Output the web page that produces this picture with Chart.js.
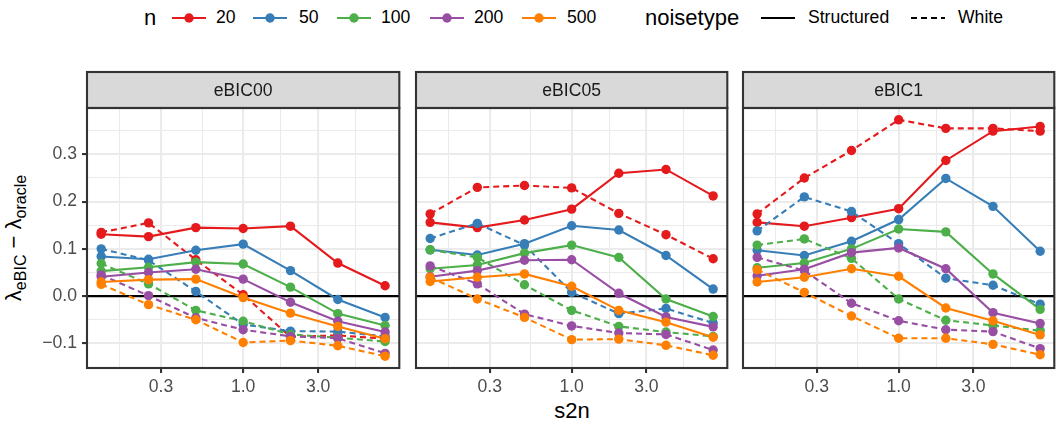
<!DOCTYPE html>
<html>
<head>
<meta charset="utf-8">
<script src="https://cdn.jsdelivr.net/npm/chart.js@4.4.1/dist/chart.umd.min.js"></script>
<style>
  html, body { margin:0; padding:0; background:#fff; }
  body { width:1063px; height:427px; overflow:hidden; position:relative; font-family:"Liberation Sans", Arial, Helvetica, sans-serif; }
  canvas { position:absolute; }
  .lg { position:absolute; top:0; height:35px; display:flex; align-items:center; white-space:nowrap; color:#000; }
  .lgt { font-size:22px; }
  .lgl { font-size:17.6px; }
  #ytitle { position:absolute; left:-136px; top:223px; width:300px; height:30px; line-height:30px; text-align:center; font-size:22px; transform:rotate(-90deg); transform-origin:50% 50%; color:#000; white-space:nowrap; }
  #ytitle sub { font-size:16px; vertical-align:-5px; line-height:0; }
  #xtitle { position:absolute; left:472px; width:200px; top:397px; height:28px; line-height:28px; text-align:center; font-size:22px; color:#000; }
</style>
</head>
<body>
<div id="legend"></div>
<div id="ytitle">λ<sub>eBIC</sub> − λ<sub>oracle</sub></div>
<div id="xtitle">s2n</div>
<canvas id="c0" width="404" height="330" style="left:0px;top:70px"></canvas>
<canvas id="c1" width="326" height="330" style="left:406px;top:70px"></canvas>
<canvas id="c2" width="326" height="330" style="left:733px;top:70px"></canvas>
<script>
// ---------------- data ----------------
const s2n = [0.125, 0.25, 0.5, 1, 2, 4, 8];
const nLevels = ['20', '50', '100', '200', '500'];
const noiseTypes = ['Structured', 'White'];
const facetNames = ['eBIC00', 'eBIC05', 'eBIC1'];
const xTickValues = [0.3, 1, 3];
const xMinorValues = [0.1643, 0.5477, 1.7321, 5.1962];
const yTickValues = [-0.1, 0, 0.1, 0.2, 0.3];
const yMinorValues = [-0.15, -0.05, 0.05, 0.15, 0.25, 0.35];

// eBIC00
const eBIC00_structured_n20  = [0.131, 0.126, 0.145, 0.143, 0.148, 0.070, 0.022];
const eBIC00_structured_n50  = [0.084, 0.078, 0.097, 0.110, 0.054, -0.007, -0.045];
const eBIC00_structured_n100 = [0.053, 0.061, 0.072, 0.068, 0.019, -0.037, -0.062];
const eBIC00_structured_n200 = [0.041, 0.050, 0.057, 0.036, -0.013, -0.053, -0.076];
const eBIC00_structured_n500 = [0.030, 0.035, 0.036, -0.003, -0.036, -0.064, -0.090];
const eBIC00_white_n20  = [0.135, 0.155, 0.077, 0.003, -0.086, -0.083, -0.090];
const eBIC00_white_n50  = [0.100, 0.076, 0.010, -0.060, -0.074, -0.075, -0.085];
const eBIC00_white_n100 = [0.069, 0.026, -0.030, -0.053, -0.081, -0.088, -0.096];
const eBIC00_white_n200 = [0.045, 0.001, -0.046, -0.071, -0.085, -0.089, -0.121];
const eBIC00_white_n500 = [0.025, -0.018, -0.050, -0.098, -0.094, -0.105, -0.127];

// eBIC05
const eBIC05_structured_n20  = [0.156, 0.145, 0.161, 0.184, 0.260, 0.268, 0.212];
const eBIC05_structured_n50  = [0.098, 0.087, 0.111, 0.149, 0.140, 0.086, 0.015];
const eBIC05_structured_n100 = [0.058, 0.066, 0.091, 0.108, 0.082, -0.006, -0.043];
const eBIC05_structured_n200 = [0.041, 0.054, 0.076, 0.077, 0.006, -0.044, -0.065];
const eBIC05_structured_n500 = [0.031, 0.040, 0.047, 0.021, -0.030, -0.055, -0.087];
const eBIC05_white_n20  = [0.174, 0.230, 0.234, 0.229, 0.175, 0.130, 0.079];
const eBIC05_white_n50  = [0.122, 0.154, 0.108, 0.008, -0.037, -0.026, -0.057];
const eBIC05_white_n100 = [0.098, 0.082, 0.024, -0.030, -0.064, -0.076, -0.085];
const eBIC05_white_n200 = [0.064, 0.026, -0.038, -0.063, -0.078, -0.081, -0.114];
const eBIC05_white_n500 = [0.040, -0.006, -0.045, -0.092, -0.091, -0.104, -0.125];

// eBIC1
const eBIC1_structured_n20  = [0.156, 0.148, 0.166, 0.185, 0.287, 0.349, 0.359];
const eBIC1_structured_n50  = [0.097, 0.086, 0.116, 0.162, 0.249, 0.190, 0.095];
const eBIC1_structured_n100 = [0.060, 0.070, 0.100, 0.142, 0.136, 0.047, -0.028];
const eBIC1_structured_n200 = [0.043, 0.057, 0.092, 0.102, 0.058, -0.035, -0.058];
const eBIC1_structured_n500 = [0.030, 0.040, 0.058, 0.042, -0.025, -0.052, -0.082];
const eBIC1_white_n20  = [0.174, 0.250, 0.308, 0.373, 0.355, 0.355, 0.349];
const eBIC1_white_n50  = [0.138, 0.210, 0.179, 0.111, 0.038, 0.023, -0.017];
const eBIC1_white_n100 = [0.108, 0.121, 0.080, -0.006, -0.051, -0.062, -0.073];
const eBIC1_white_n200 = [0.082, 0.054, -0.015, -0.052, -0.071, -0.075, -0.111];
const eBIC1_white_n500 = [0.056, 0.008, -0.042, -0.089, -0.089, -0.102, -0.124];

// ---------------- styling ----------------
const nColors = ['#E41A1C', '#377EB8', '#4DAF4A', '#984EA3', '#FF7F00'];
const dashFor = [[], [6, 4]];
const FONT = '"Liberation Sans", Arial, Helvetica, sans-serif';

const panelSeries = [
  [[eBIC00_structured_n20, eBIC00_structured_n50, eBIC00_structured_n100, eBIC00_structured_n200, eBIC00_structured_n500],
   [eBIC00_white_n20, eBIC00_white_n50, eBIC00_white_n100, eBIC00_white_n200, eBIC00_white_n500]],
  [[eBIC05_structured_n20, eBIC05_structured_n50, eBIC05_structured_n100, eBIC05_structured_n200, eBIC05_structured_n500],
   [eBIC05_white_n20, eBIC05_white_n50, eBIC05_white_n100, eBIC05_white_n200, eBIC05_white_n500]],
  [[eBIC1_structured_n20, eBIC1_structured_n50, eBIC1_structured_n100, eBIC1_structured_n200, eBIC1_structured_n500],
   [eBIC1_white_n20, eBIC1_white_n50, eBIC1_white_n100, eBIC1_white_n200, eBIC1_white_n500]]
];

// shared limits with ggplot-like 5% expansion
const lx0 = Math.log10(Math.min(...s2n)), lx1 = Math.log10(Math.max(...s2n));
const lxe = (lx1 - lx0) * 0.05;
const xMin = Math.pow(10, lx0 - lxe), xMax = Math.pow(10, lx1 + lxe);
const allY = panelSeries.flat(2).flat();
const yLo = Math.min(...allY), yHi = Math.max(...allY);
const ye = (yHi - yLo) * 0.05;
const yMin = yLo - ye, yMax = yHi + ye;

const isMajor = (arr, v) => arr.some(t => Math.abs(t - v) < 1e-9);
const fmt = v => (Math.abs(v) < 1e-9 ? '0.0' : (v < 0 ? '\u2212' + Math.abs(v).toFixed(1) : v.toFixed(1)));

const panelPlugin = {
  id: 'panelDeco',
  beforeDatasetsDraw(chart) {
    const a = chart.chartArea, ctx = chart.ctx;
    const y0 = chart.scales.y.getPixelForValue(0);
    ctx.save();
    ctx.beginPath(); ctx.rect(a.left, a.top, a.right - a.left, a.bottom - a.top); ctx.clip();
    ctx.strokeStyle = '#000000'; ctx.lineWidth = 2.1;
    ctx.beginPath(); ctx.moveTo(a.left, y0); ctx.lineTo(a.right, y0); ctx.stroke();
    ctx.restore();
  },
  afterDraw(chart, args, opts) {
    const a = chart.chartArea, ctx = chart.ctx;
    ctx.save();
    // strip
    const sTop = a.top - 36;
    ctx.fillStyle = '#D9D9D9';
    ctx.fillRect(a.left, sTop, a.right - a.left, a.top - sTop);
    ctx.strokeStyle = '#333333'; ctx.lineWidth = 2.1;
    ctx.strokeRect(a.left, sTop, a.right - a.left, a.top - sTop);
    ctx.fillStyle = '#1A1A1A';
    ctx.font = '17.6px ' + FONT;
    ctx.textAlign = 'center'; ctx.textBaseline = 'middle';
    ctx.fillText(opts.title, (a.left + a.right) / 2, (sTop + a.top) / 2 + 1);
    // panel border
    ctx.strokeRect(a.left, a.top, a.right - a.left, a.bottom - a.top);
    ctx.restore();
  }
};

function makePanel(p) {
  const datasets = [];
  for (let k = 0; k < nLevels.length; k++) {
    for (let t = 0; t < noiseTypes.length; t++) {
      const vals = panelSeries[p][t][k];
      const pts = s2n.map((x, i) => ({ x: x, y: vals[i] }));
      const idx = k * 2 + t;
      datasets.push({
        label: 'n=' + nLevels[k] + ' ' + noiseTypes[t],
        data: pts, borderColor: nColors[k], backgroundColor: nColors[k],
        borderWidth: 2.1, borderDash: dashFor[t], pointRadius: 0, tension: 0, fill: false,
        order: 100 - idx
      });
      datasets.push({
        label: 'pts n=' + nLevels[k] + ' ' + noiseTypes[t],
        data: pts, showLine: false, pointRadius: 4.7, pointBorderWidth: 0,
        pointBackgroundColor: nColors[k], pointBorderColor: nColors[k],
        order: -idx
      });
    }
  }
  const showY = p === 0;
  const allXTicks = [...xMinorValues, ...xTickValues].sort((a, b) => a - b);
  const allYTicks = [...yMinorValues, ...yTickValues].sort((a, b) => a - b);
  new Chart(document.getElementById('c' + p), {
    type: 'line',
    data: { datasets },
    plugins: [panelPlugin],
    options: {
      responsive: false, animation: false, devicePixelRatio: 1,
      layout: { padding: { top: 38, right: 1, left: 0, bottom: 0 } },
      plugins: { legend: { display: false }, tooltip: { enabled: false }, panelDeco: { title: facetNames[p] } },
      scales: {
        x: {
          type: 'logarithmic', min: xMin, max: xMax,
          afterBuildTicks: s => { s.ticks = allXTicks.map(v => ({ value: v })); },
          afterFit: s => { s.height = 32; s.paddingLeft = 0; s.paddingRight = 0; },
          border: { display: false },
          grid: {
            color: '#EBEBEB',
            lineWidth: c => (isMajor(xTickValues, c.tick.value) ? 2.1 : 1.05),
            tickColor: c => (isMajor(xTickValues, c.tick.value) ? '#333333' : 'rgba(0,0,0,0)'),
            tickWidth: 2.1, tickLength: 5, drawTicks: true
          },
          ticks: {
            autoSkip: false, maxRotation: 0, minRotation: 0, padding: 4,
            color: '#4D4D4D', font: { size: 17.6, family: FONT },
            callback: v => (isMajor(xTickValues, v) ? v.toFixed(1) : '')
          }
        },
        y: {
          type: 'linear', min: yMin, max: yMax,
          afterBuildTicks: s => { s.ticks = allYTicks.map(v => ({ value: v })); },
          afterFit: s => { s.width = showY ? 87 : 10; },
          border: { display: false },
          grid: {
            color: '#EBEBEB',
            lineWidth: c => (isMajor(yTickValues, c.tick.value) ? 2.1 : 1.05),
            tickColor: c => (isMajor(yTickValues, c.tick.value) ? '#333333' : 'rgba(0,0,0,0)'),
            tickWidth: 2.1, tickLength: 5, drawTicks: showY
          },
          ticks: {
            display: showY, autoSkip: false, padding: 5,
            color: '#4D4D4D', font: { size: 17.6, family: FONT },
            callback: v => (isMajor(yTickValues, v) ? fmt(v) : '')
          }
        }
      }
    }
  });
}
[0, 1, 2].forEach(makePanel);

// ---------------- legend (HTML) ----------------
const legend = document.getElementById('legend');
function addText(txt, left, cls) {
  const d = document.createElement('div');
  d.className = 'lg ' + cls; d.style.left = left + 'px'; d.textContent = txt;
  legend.appendChild(d);
}
function addKey(left, color, dashed, withPoint) {
  const d = document.createElement('div');
  d.className = 'lg'; d.style.left = left + 'px';
  const dash = dashed ? ' stroke-dasharray="6 4"' : '';
  d.innerHTML = '<svg width="34" height="14" viewBox="0 0 34 14">' +
    '<line x1="0" y1="7" x2="34" y2="7" stroke="' + color + '" stroke-width="2.1"' + dash + '/>' +
    (withPoint ? '<circle cx="17" cy="7" r="4.7" fill="' + color + '"/>' : '') + '</svg>';
  legend.appendChild(d);
}
addText('n', 144, 'lgt');
const keyLeft = [172, 253, 337, 430, 522];
const labLeft = [216, 299, 381, 474, 567];
nLevels.forEach((n, k) => { addKey(keyLeft[k], nColors[k], false, true); addText(n, labLeft[k], 'lgl'); });
addText('noisetype', 645, 'lgt');
addKey(761, '#000000', false, false); addText(noiseTypes[0], 808, 'lgl');
addKey(911, '#000000', true, false); addText(noiseTypes[1], 958, 'lgl');
</script>
</body>
</html>
